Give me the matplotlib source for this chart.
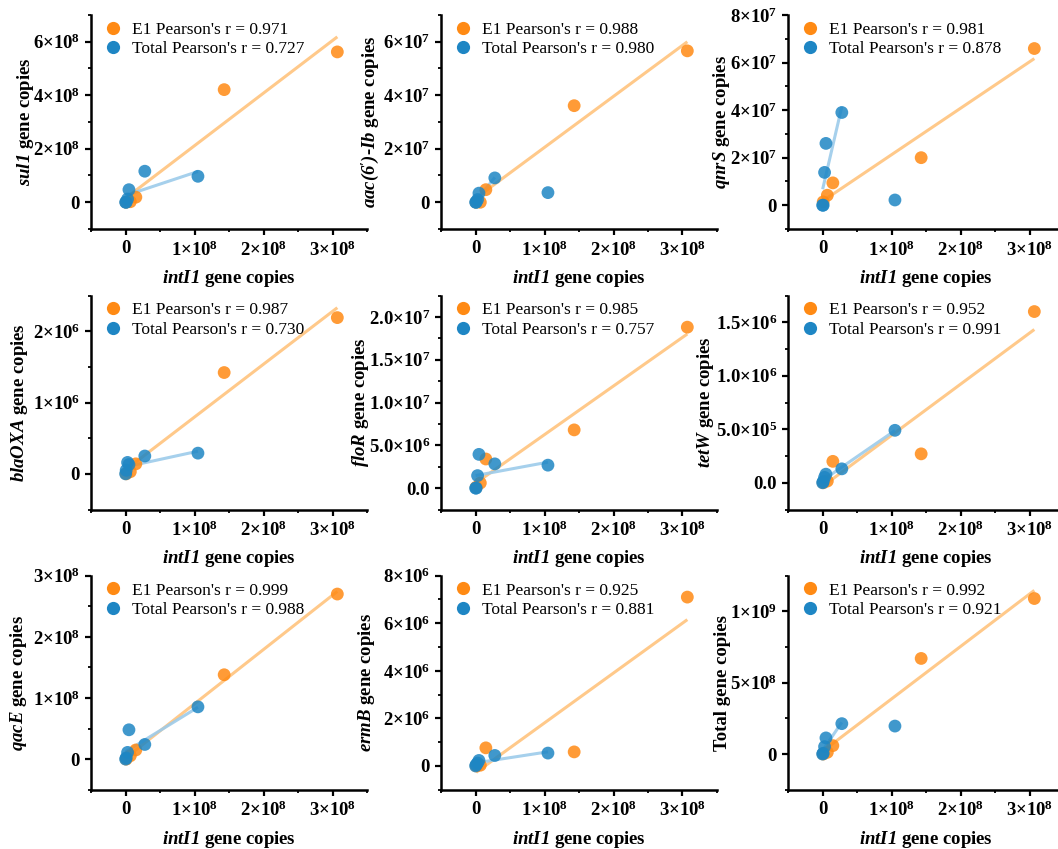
import numpy as np
import matplotlib
matplotlib.use("Agg")
import matplotlib.pyplot as plt
from matplotlib.ticker import FixedLocator, FixedFormatter, MultipleLocator
from matplotlib.lines import Line2D

plt.rcParams['font.family'] = ['Liberation Serif', 'DejaVu Serif']
plt.rcParams['mathtext.fontset'] = 'custom'
plt.rcParams['mathtext.rm'] = 'Liberation Serif'
plt.rcParams['mathtext.it'] = 'Liberation Serif:italic'
plt.rcParams['mathtext.bf'] = 'Liberation Serif:bold'
plt.rcParams['mathtext.bfit'] = 'Liberation Serif:italic:bold'

# ---------------- data ----------------
# intI1 gene copies (x) for the two groups
e1_x = [3.07e8, 1.43e8, 1.5e7, 7e6, 1e6]
total_x = [1.05e8, 2.8e7, 5e6, 3e6, 1e6, 2e5]

gene_names = ["sul1", "aac(6')-Ib", "qnrS", "blaOXA", "floR", "tetW", "qacE", "ermB", "Total"]

sul1_e1 = [5.62e8, 4.21e8, 1.9e7, 2e6, 0.0]
sul1_total = [9.7e7, 1.16e8, 4.7e7, 1.2e7, 0.0, 0.0]
aac_e1 = [5.66e7, 3.61e7, 4.7e6, 0.0, 0.0]
aac_total = [3.6e6, 9.1e6, 3.4e6, 1.0e6, 0.0, 0.0]
qnrs_e1 = [6.59e7, 2.0e7, 9.4e6, 4.2e6, 1.4e6]
qnrs_total = [2.2e6, 3.9e7, 2.6e7, 1.38e7, 0.0, 0.0]
blaoxa_e1 = [2.19e6, 1.42e6, 1.4e5, 3e4, 0.0]
blaoxa_total = [2.9e5, 2.5e5, 1.3e5, 1.6e5, 5e4, 0.0]
flor_e1 = [1.88e7, 6.8e6, 3.4e6, 6e5, 1e5]
flor_total = [2.68e6, 2.83e6, 3.94e6, 1.46e6, 0.0, 0.0]
tetw_e1 = [1.60e6, 2.7e5, 2.0e5, 1.6e4, 0.0]
tetw_total = [4.9e5, 1.3e5, 8e4, 5e4, 1e4, 0.0]
qace_e1 = [2.70e8, 1.38e8, 1.5e7, 5.5e6, 0.0]
qace_total = [8.55e7, 2.4e7, 4.8e7, 1.1e7, 2e6, 0.0]
ermb_e1 = [7.1e6, 5.9e5, 7.6e5, 3e4, 0.0]
ermb_total = [5.4e5, 4.4e5, 2.3e5, 1.2e5, 5e4, 0.0]
totalgene_e1 = [1.09e9, 6.7e8, 5.9e7, 1.2e7, 0.0]
totalgene_total = [1.96e8, 2.13e8, 1.13e8, 5.2e7, 5e6, 0.0]

e1_r = ["0.971", "0.988", "0.981", "0.987", "0.985", "0.952", "0.999", "0.925", "0.992"]
total_r = ["0.727", "0.980", "0.878", "0.730", "0.757", "0.991", "0.988", "0.881", "0.921"]

# whether the Total fit leaves out the high-intI1 sample
total_fit_skip_first = [False, True, True, False, False, False, False, False, True]

x_ticks = [0, 1e8, 2e8, 3e8]
x_tick_labels = ["0", "1×10^8", "2×10^8", "3×10^8"]

y_limits = [(-1e8, 7e8), (-1e7, 7e7), (-1e7, 8e7), (-5e5, 2.5e6), (-2.5e6, 2.25e7),
            (-2.5e5, 1.75e6), (-5e7, 3e8), (-1e6, 8e6), (-2.5e8, 1.25e9)]
y_ticks = [[0, 2e8, 4e8, 6e8], [0, 2e7, 4e7, 6e7], [0, 2e7, 4e7, 6e7, 8e7],
           [0, 1e6, 2e6], [0, 5e6, 1e7, 1.5e7, 2e7], [0, 5e5, 1e6, 1.5e6],
           [0, 1e8, 2e8, 3e8], [0, 2e6, 4e6, 6e6, 8e6], [0, 5e8, 1e9]]
y_tick_labels = [["0", "2×10^8", "4×10^8", "6×10^8"],
                 ["0", "2×10^7", "4×10^7", "6×10^7"],
                 ["0", "2×10^7", "4×10^7", "6×10^7", "8×10^7"],
                 ["0", "1×10^6", "2×10^6"],
                 ["0.0", "5.0×10^6", "1.0×10^7", "1.5×10^7", "2.0×10^7"],
                 ["0.0", "5.0×10^5", "1.0×10^6", "1.5×10^6"],
                 ["0", "1×10^8", "2×10^8", "3×10^8"],
                 ["0", "2×10^6", "4×10^6", "6×10^6", "8×10^6"],
                 ["0", "5×10^8", "1×10^9"]]
y_minor_steps = [1e8, 1e7, 1e7, 5e5, 2.5e6, 2.5e5, 5e7, 1e6, 2.5e8]

e1_series = [sul1_e1, aac_e1, qnrs_e1, blaoxa_e1, flor_e1, tetw_e1, qace_e1, ermb_e1, totalgene_e1]
total_series = [sul1_total, aac_total, qnrs_total, blaoxa_total, flor_total, tetw_total,
                qace_total, ermb_total, totalgene_total]

# ---------------- style / layout ----------------
ORANGE = "#FF8A14"
BLUE = "#1E86C4"
ORANGE_LINE = "#FFC98A"
BLUE_LINE = "#9CCBEA"

# horizontal centre (figure pixels) of each y-axis title
ylabel_center_px = [27, 372, 723, 21, 362, 707, 20, 368, 722]


def fmt(s):
    if "×10^" in s:
        m, e = s.split("×10^")
        return r"$\mathbf{%s{\times}10^{%s}}$" % (m, e)
    return s


def ylabel_text(name):
    if name == "Total":
        return "Total gene copies"
    if name == "aac(6')-Ib":
        return r"$\mathbfit{aac(6')}$-$\mathbfit{Ib}$ gene copies"
    return r"$\mathbfit{%s}$ gene copies" % name


W, H = 1058, 849
fig = plt.figure(figsize=(W / 100, H / 100), dpi=100)

col_left = [91, 441, 788]
row_top = [15, 295.5, 575.7]
ax_w, ax_h = 276, 214

for i, name in enumerate(gene_names):
    r, c = divmod(i, 3)
    ax = fig.add_axes([col_left[c] / W, 1 - (row_top[r] + ax_h) / H, ax_w / W, ax_h / H])
    ex = np.array(e1_x)
    ey = np.array(e1_series[i])
    tx = np.array(total_x)
    ty = np.array(total_series[i])

    # regression lines
    k, b = np.polyfit(ex, ey, 1)
    xs = np.array([ex.min(), ex.max()])
    ax.plot(xs, k * xs + b, color=ORANGE_LINE, lw=2.2, zorder=2, solid_capstyle='butt')
    if total_fit_skip_first[i]:
        fx, fy = tx[1:], ty[1:]
    else:
        fx, fy = tx, ty
    k2, b2 = np.polyfit(fx, fy, 1)
    xs2 = np.array([fx.min(), fx.max()])
    ax.plot(xs2, k2 * xs2 + b2, color=BLUE_LINE, lw=2.2, zorder=2, alpha=0.9, solid_capstyle='butt')

    ax.scatter(ex, ey, s=85, color=ORANGE, alpha=0.85, edgecolors='none', zorder=3)
    ax.scatter(tx, ty, s=85, color=BLUE, alpha=0.85, edgecolors='none', zorder=4)

    ax.set_xlim(-5e7, 3.5e8)
    ax.set_ylim(*y_limits[i])
    ax.xaxis.set_major_locator(FixedLocator(x_ticks))
    ax.xaxis.set_major_formatter(FixedFormatter([fmt(s) for s in x_tick_labels]))
    ax.xaxis.set_minor_locator(MultipleLocator(5e7))
    ax.yaxis.set_major_locator(FixedLocator(y_ticks[i]))
    ax.yaxis.set_major_formatter(FixedFormatter([fmt(s) for s in y_tick_labels[i]]))
    ax.yaxis.set_minor_locator(MultipleLocator(y_minor_steps[i]))

    for sp in ['top', 'right']:
        ax.spines[sp].set_visible(False)
    for sp in ['left', 'bottom']:
        ax.spines[sp].set_linewidth(1.8)
    ax.tick_params(which='major', direction='out', length=4, width=1.6, labelsize=13.5, pad=4)
    ax.tick_params(which='minor', direction='out', length=2.5, width=1.3)
    for lab in ax.get_xticklabels() + ax.get_yticklabels():
        lab.set_fontweight('bold')

    ax.set_xlabel(r"$\mathbfit{intI1}$ gene copies", fontsize=13.5, fontweight='bold', labelpad=6)
    ax.set_ylabel(ylabel_text(name), fontsize=13.5, fontweight='bold')
    ax.yaxis.set_label_coords((ylabel_center_px[i] + 9 - col_left[c]) / ax_w, 0.5)

    handles = [Line2D([], [], ls='none', marker='o', ms=9.5, color=ORANGE, mec='none'),
               Line2D([], [], ls='none', marker='o', ms=9.5, color=BLUE, mec='none')]
    labels = ["E1 Pearson's r = " + e1_r[i], "Total Pearson's r = " + total_r[i]]
    ax.legend(handles, labels, loc='upper left', bbox_to_anchor=(0.035, 0.985), frameon=False,
              fontsize=12.5, handlelength=1.0, handletextpad=0.6, labelspacing=0.2,
              borderaxespad=0, borderpad=0.2)

fig.savefig("out.png", dpi=100)
